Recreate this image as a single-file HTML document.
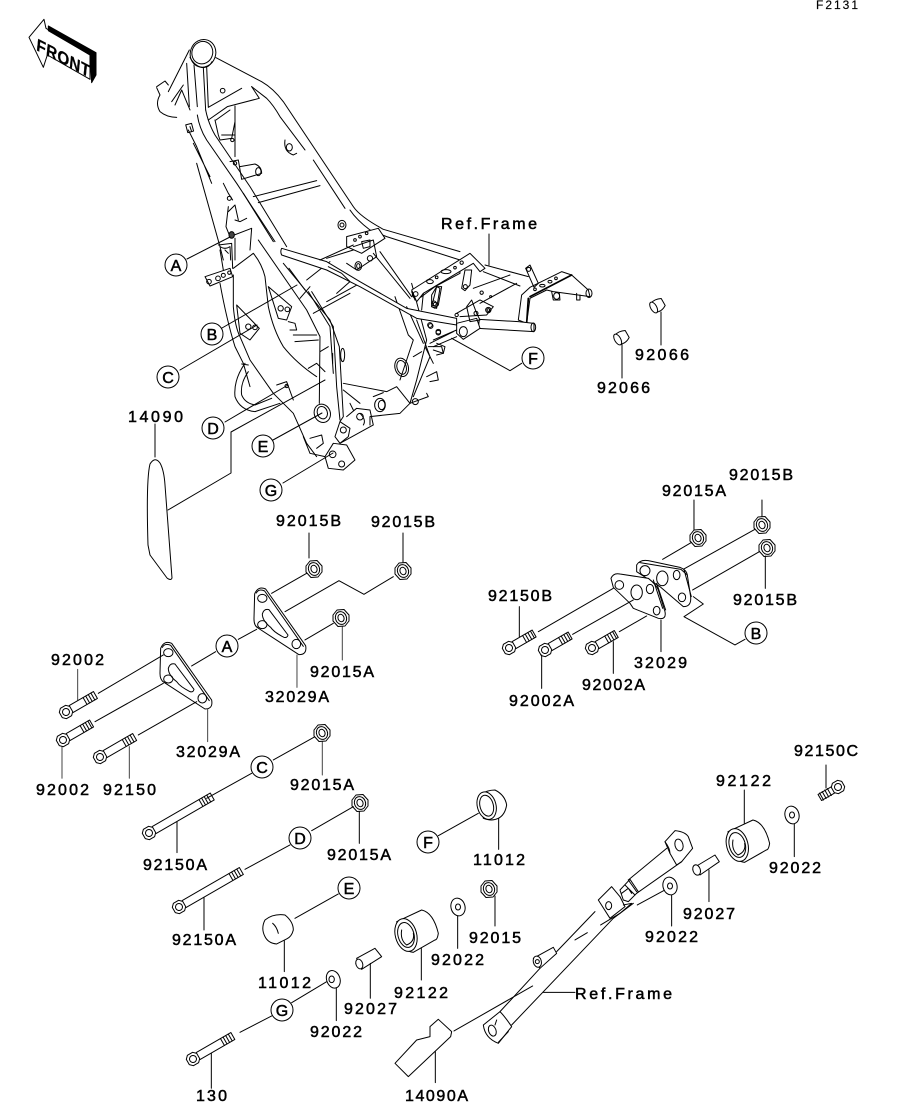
<!DOCTYPE html>
<html><head><meta charset="utf-8"><style>
html,body{margin:0;padding:0;background:#fff}
svg{display:block}
.l{fill:none;stroke:#000;stroke-width:1;stroke-linejoin:round;stroke-linecap:round}
.z{fill:none;stroke:#000;stroke-width:3;stroke-linejoin:round;stroke-linecap:round}
.z .w,.w{fill:#fff}
text{font-family:"Liberation Sans",sans-serif;font-size:16px;fill:#000;stroke:#000;stroke-width:.5}
.c{font-size:16px;text-anchor:middle}
circle.k{fill:#fff;stroke:#000;stroke-width:1}
</style></head><body>
<svg width="914" height="1103" viewBox="0 0 914 1103" xmlns="http://www.w3.org/2000/svg">
<defs>
<g id="nut" class="l"><polygon class="w" points="-8,-3 -4,-8 3,-8.5 8,-3 8,3 4,8 -3,8.5 -8,3"/><ellipse rx="5.5" ry="6.5" transform="rotate(-20)"/><ellipse rx="3" ry="3.8" transform="rotate(-20)"/></g>
<g id="bh" class="l"><polygon class="w" points="-6,-3 -3,-6 3,-6 6,-3 6,3 3,6 -3,6 -6,3"/><circle r="3.5"/></g>
<g id="th" class="l"><path d="M0-4V4M3-4V4M6-4V4M9-4V4"/></g>
<g id="p1" class="z">
<path class="w" d="M362 265Q372 240 395 250L515 420Q520 447 495 447L372 367Q360 360 360 340Z"/>
<path d="M367 262Q375 248 392 256L508 422"/>
<ellipse cx="385" cy="278" rx="14" ry="12"/><ellipse cx="385" cy="357" rx="14" ry="12"/><ellipse cx="487" cy="415" rx="13" ry="14"/>
<path d="M385 325Q390 308 405 312L462 388Q460 398 450 395Q420 380 410 365Q385 345 385 325Z"/>
</g>
<g id="wa" class="l"><ellipse class="w" rx="7" ry="9" transform="rotate(-15)"/><ellipse rx="2.5" ry="3"/></g>
</defs>
<rect width="914" height="1103" fill="#fff"/>

<!-- FRONT arrow -->
<g class="z" transform="translate(20,10) scale(.3333)">
<polygon class="w" points="27,82 72,28 78,55 210,135 210,208 82,135 70,172"/>
<polygon fill="#000" points="85,48 228,128 228,195 215,218 210,135 85,62"/>
</g>
<text transform="matrix(.89,.46,-.1,1,36,50)" x="0" y="0" textLength="60" style="font-size:17px;font-weight:bold;stroke-width:.2">FRONT</text>
<text x="816" y="9" textLength="42" style="font-size:12px;stroke-width:.15">F2131</text>

<!-- frame upper -->
<g class="z" transform="translate(140,20) scale(.3333)">
<ellipse cx="189" cy="100" rx="38" ry="42" transform="rotate(20 189 100)"/>
<ellipse cx="187" cy="98" rx="31" ry="34" transform="rotate(20 187 98)"/>
<path d="M150 112Q165 140 190 143Q208 142 216 125"/>
<path d="M148 90L85 215M50 200L75 183L85 195M50 203L60 225Q45 250 60 275Q80 292 110 292M95 245L130 195M105 255L125 210L150 270"/>
<path d="M140 130L148 260M162 135L172 260M190 143L197 270"/>
<path d="M172 285Q178 325 200 360L290 490L405 665M197 270Q205 310 225 345L330 500L440 680"/>
<path d="M310 520L400 665"/>
<path d="M205 262L305 205M200 140L205 262M205 300L262 260L358 235L335 200"/>
<circle cx="248" cy="212" r="7"/>
<path d="M285 258L285 410M225 300L235 345L240 360L275 355L285 305M245 345L285 345M228 300L270 270"/>
<circle cx="277" cy="360" r="5"/><circle cx="285" cy="430" r="5"/>
<path d="M270 425L295 420L305 478M300 440L345 432Q365 440 365 460L305 478"/><ellipse cx="355" cy="455" rx="8" ry="12"/>
<path d="M340 530L530 482M355 548L540 497"/>
<path d="M228 113L365 185Q400 205 430 245L640 560Q660 590 730 628L960 695"/>
<path d="M335 200L380 235Q400 255 420 290L495 390M520 420L615 565M630 570Q650 600 690 630L740 650L960 720"/>
<path d="M435 360Q430 395 460 405L470 400"/><ellipse cx="448" cy="382" rx="9" ry="11"/>
<ellipse cx="606" cy="615" rx="12" ry="14"/><circle cx="606" cy="615" r="6"/>
<path d="M145 330L170 380L215 490M160 370L210 470M170 430L240 680L250 720M150 320L155 335"/>
<rect x="140" y="312" width="18" height="24" transform="rotate(-15 149 324)"/>
<path d="M250 490L265 520L278 540M265 560L258 620L270 650L335 625L330 690M285 600L300 605L320 595M265 575L285 555L295 600"/>
<circle cx="268" cy="535" r="6"/>
<ellipse cx="275" cy="645" rx="8" ry="10" fill="#444"/>
<path d="M285 655L285 720M240 680Q255 690 270 680L272 720"/>
<path class="w" d="M620 650L715 625L735 655L665 700L620 680Z"/>
<circle cx="645" cy="660" r="4"/><circle cx="660" cy="650" r="4"/><circle cx="680" cy="640" r="4"/>
<path d="M665 665L690 660L690 680L670 685Z"/>
<path d="M560 715L640 690"/>
</g>

<!-- frame middle/lower -->
<g class="z" transform="translate(140,240) scale(.3333)">
<path class="w" d="M195 110L270 85L278 110L210 138Z"/>
<circle cx="207" cy="125" r="7"/><circle cx="234" cy="115" r="7"/><circle cx="250" cy="106" r="6"/><circle cx="268" cy="98" r="5"/>
<path d="M235 15L275 10L278 85M240 30L250 90M255 30L265 40"/>
<path d="M240 130Q260 240 285 320L310 370L330 440"/>
<path d="M280 105L280 200Q285 260 300 290L330 360L400 460L460 520L500 610L530 650"/>
<path d="M280 85L340 40Q365 70 375 110L385 200Q400 270 430 320Q470 370 530 410"/>
<path class="w" d="M385 140L455 200L440 240L415 235Z"/><circle cx="422" cy="205" r="8"/><circle cx="442" cy="208" r="7"/>
<path class="w" d="M290 195L358 265L330 300L300 280Z"/><circle cx="325" cy="260" r="8"/><circle cx="345" cy="262" r="7"/>
<path d="M445 245L465 250L470 270L450 270"/>
<path d="M355 0L500 210L540 290L538 490M430 70L570 240L598 320L610 530L600 545"/>
<path d="M505 155L570 260L580 400M515 155L580 260L590 440L600 540M447 85L495 150"/>
<path d="M460 285L530 285M465 305L535 300M500 120L570 65M480 175L510 140M520 220L630 160M560 185L660 130"/>
<path d="M540 335L565 320M578 340L578 370M505 385L530 370L555 395"/>
<ellipse cx="608" cy="345" rx="6" ry="20"/>
<ellipse class="w" cx="547" cy="520" rx="24" ry="28" transform="rotate(-20 547 520)"/>
<ellipse cx="547" cy="518" rx="15" ry="19" transform="rotate(-20 547 518)"/>
<path d="M315 370Q280 420 285 470Q300 510 345 515L420 490M325 395Q300 430 305 465Q315 490 345 495L395 475M305 372L325 375"/>
<path d="M410 435L440 425L460 480"/><circle cx="440" cy="438" r="5"/>
<path d="M490 590L510 640L555 650M510 595L545 585L550 610L530 625"/>
<path class="w" d="M555 650L580 610L620 615L645 660L610 690L565 685Z"/>
<circle cx="578" cy="643" r="10"/><circle cx="605" cy="672" r="9"/>
<path class="w" d="M585 590L600 545L630 565L625 590L600 610Z"/><circle cx="610" cy="570" r="9"/>
<path d="M600 610L700 555L690 510L650 505L620 530M660 520Q680 540 670 555"/>
<circle cx="660" cy="530" r="10"/>
<path d="M610 430L740 455L770 440L810 490L780 520L690 530L690 555M610 450L660 490M630 490L640 510"/>
<ellipse cx="720" cy="495" rx="16" ry="20"/><ellipse cx="725" cy="495" rx="10" ry="14"/><path d="M700 470L730 458"/>
<ellipse class="w" cx="785" cy="382" rx="20" ry="28" transform="rotate(-15 785 382)"/><ellipse cx="785" cy="382" rx="14" ry="21" transform="rotate(-15 785 382)"/>
<path d="M765 170L805 285L820 300L780 420M815 130L860 300L830 420L810 490M800 200L850 310M830 240L870 350L820 470M820 350L845 335"/>
<circle cx="826" cy="485" r="9"/><path d="M810 490L865 470L860 460"/>
<path d="M855 320L880 370M865 320L905 320L910 340L890 345M860 410L890 395L895 420L870 425"/>
<path class="w" d="M425 25L560 65L660 125L800 205L950 235L950 255L830 235L660 140L560 90L425 45Q420 35 425 25Z"/>
<path d="M640 20L700 0L710 50L650 90L620 70M540 60L640 15M565 80L605 100L630 125L590 160"/>
<ellipse cx="655" cy="78" rx="10" ry="13"/><ellipse cx="655" cy="78" rx="5" ry="7"/><circle cx="690" cy="55" r="8"/>
<path d="M700 40L810 175M720 35L815 170"/>
<path class="w" d="M815 155L960 70L960 100L885 140L845 170L825 180Z"/><circle cx="825" cy="165" r="8"/><ellipse cx="868" cy="123" rx="8" ry="4"/><circle cx="893" cy="110" r="4"/><path d="M900 105L940 85"/>
<path d="M875 165L890 140L900 145L890 205L875 200Z"/><circle cx="882" cy="190" r="7"/>
<circle cx="870" cy="255" r="7"/><circle cx="895" cy="278" r="7"/><path d="M880 300L950 270M880 320L950 290"/>
<circle cx="950" cy="225" r="5"/>
</g>

<!-- rear frame -->
<g class="z" transform="translate(380,200) scale(.3333)">
<path class="w" d="M95 270L270 160L315 205L300 215L280 190L130 280L110 305Z"/>
<ellipse cx="150" cy="245" rx="10" ry="6"/><circle cx="170" cy="232" r="4"/><ellipse cx="198" cy="215" rx="15" ry="6"/><circle cx="225" cy="203" r="4"/><circle cx="245" cy="188" r="5"/><circle cx="107" cy="282" r="7"/>
<path d="M130 280L125 330M245 265L255 210L275 210L270 255L255 272Z M155 320L170 260L185 260L175 315L165 325Z"/><circle cx="256" cy="260" r="6"/><circle cx="166" cy="313" r="6"/>
<path d="M315 195L445 230M310 215L420 258M280 265L390 225M300 310L410 250"/>
<path d="M230 340L300 300L340 320L320 345L240 350"/><circle cx="325" cy="330" r="8"/><circle cx="325" cy="330" r="4"/><circle cx="305" cy="278" r="5"/><circle cx="332" cy="290" r="3"/>
<path class="w" d="M415 360L425 285L450 262L545 215L575 225L625 270L630 290L520 275L500 270L450 295L440 370Z"/>
<path d="M450 290L575 225M445 295L440 370" stroke-width="5"/>
<circle cx="465" cy="268" r="4"/><ellipse cx="487" cy="257" rx="8" ry="4"/><ellipse cx="510" cy="245" rx="6" ry="4"/><circle cx="528" cy="235" r="4"/>
<path d="M437 205L450 195L475 250L462 262Z"/><circle cx="446" cy="208" r="6"/>
<ellipse cx="627" cy="280" rx="9" ry="13"/>
<path d="M515 275L520 300L540 300L538 280"/><ellipse cx="530" cy="288" rx="9" ry="10"/><path d="M590 280L590 300L600 300L600 285"/>
<path class="w" d="M298 358L415 365L462 370L462 395L295 385Z"/><ellipse cx="460" cy="382" rx="7" ry="13"/>
<path class="w" d="M230 370L290 355L300 385L250 418L230 400Z"/><ellipse cx="250" cy="395" rx="12" ry="15"/>
<path d="M260 320L275 300L290 340L300 360L270 365Z"/><circle cx="288" cy="340" r="6"/>
<path d="M215 415L390 512L425 490"/>
<circle cx="152" cy="378" r="7"/><circle cx="175" cy="395" r="7"/><path d="M150 430L220 395M170 430L195 440L190 460L160 450"/>
</g>

<!-- 14090 guard -->
<path class="l" d="M148 545Q146 480 150 464Q155 456 160 463Q164 470 165 485L172 578Q171 581 167 578L150 555Z"/>
<!-- connectors -->
<g class="l">
<path d="M489 234V265"/>
<path d="M187 259L230 237M222 328L297 285M180 370L257 325M225 422L288 385M273 440L322 413M283 483L333 453"/>
<path d="M168 510L231 473V432L325 380"/>
<path d="M155 424V457"/>
<path d="M661 312V345M622 343V378"/>
<path d="M309 533V558M403 533V562"/>
</g>
<!-- caps 92066 -->
<g class="l">
<g transform="translate(658,305) rotate(-30)"><path class="w" d="M-6 -5Q0 -7 6 -4L6 4Q0 8 -6 5Z"/><ellipse cx="-5" cy="0" rx="3" ry="6" class="w"/></g>
<g transform="translate(622,337) rotate(-30)"><path class="w" d="M-6 -5Q0 -7 6 -4L6 4Q0 8 -6 5Z"/><ellipse cx="-5" cy="0" rx="3" ry="6" class="w"/></g>
</g>

<!-- plates left -->
<g transform="translate(40,560) scale(.3333)">
<use href="#p1"/><use href="#p1" x="282" y="-163"/>
<g class="z">
<path d="M175 400L370 285M165 485L370 370M295 525L470 425M455 318L527 275M595 238L650 208M695 100L800 40M735 155L897 62L972 103L1060 50M795 240L880 190M700 600L825 530M500 715L635 640"/>
<path stroke="#444" d="M907 200V300M771 285V382M503 447V545M113 328V420M66 558V655M268 560V655M847 545V645"/>
</g>
</g>
<!-- bolts -->
<g class="l">
<g transform="translate(66,712) rotate(-30)"><path d="M6-4H34V4H6"/><use href="#th" x="22"/><use href="#bh"/></g>
<g transform="translate(63,740) rotate(-30)"><path d="M6-4H33V4H6"/><use href="#th" x="22"/><use href="#bh"/></g>
<g transform="translate(100,757) rotate(-30)"><path d="M6-4H40V4H6"/><use href="#th" x="28"/><use href="#bh"/></g>
<g transform="translate(149,833) rotate(-30)"><path d="M6-4H73V4H6"/><use href="#th" x="60"/><use href="#bh"/></g>
<g transform="translate(179,907) rotate(-30)"><path d="M6-4H72V4H6"/><use href="#th" x="60"/><use href="#bh"/></g>
<g transform="translate(193,1059) rotate(-30)"><path d="M6-4H46V4H6"/><use href="#th" x="34"/><use href="#bh"/></g>
<g transform="translate(509,648) rotate(-30)"><path d="M6-4H29V4H6"/><use href="#th" x="18"/><use href="#bh"/></g>
<g transform="translate(545,650) rotate(-30)"><path d="M6-4H29V4H6"/><use href="#th" x="18"/><use href="#bh"/></g>
<g transform="translate(592,648) rotate(-30)"><path d="M6-4H28V4H6"/><use href="#th" x="17"/><use href="#bh"/></g>
<g transform="translate(838,787) rotate(150)"><path d="M6-3.5H21V3.5H6"/><use href="#th" x="10"/><use href="#bh"/></g>
<path d="M826 765V788"/>
</g>
<!-- nuts -->
<use href="#nut" x="314" y="569"/><use href="#nut" x="341" y="618"/><use href="#nut" x="403" y="571"/><use href="#nut" x="322" y="733"/><use href="#nut" x="360" y="803"/><use href="#nut" x="489" y="889"/><use href="#nut" x="698" y="538"/><use href="#nut" x="762" y="525"/><use href="#nut" x="767" y="548"/>

<!-- right plates -->
<g class="z" transform="translate(480,500) scale(.3333)">
<path class="w" d="M470 195Q480 178 505 182L600 202Q620 210 622 225L632 290Q635 320 610 320L540 260L470 215Z"/>
<path d="M480 188L603 208L622 225M612 208L634 290"/>
<circle cx="495" cy="212" r="15"/><ellipse cx="547" cy="235" rx="17" ry="22"/><ellipse cx="590" cy="225" rx="10" ry="14"/><ellipse cx="606" cy="292" rx="11" ry="13"/>
<path class="w" d="M393 235Q400 218 420 222L505 235Q530 255 535 270L555 335Q560 360 535 355L460 325L450 310L400 262Z"/>
<path d="M530 250L557 330M520 240L548 325"/>
<circle cx="418" cy="255" r="13"/><ellipse cx="470" cy="277" rx="17" ry="22"/><ellipse cx="510" cy="267" rx="11" ry="14"/><ellipse cx="530" cy="332" rx="10" ry="13"/>
<path d="M175 395L400 265M278 403L460 300M418 395L500 348M548 178L635 127M612 207L825 88M638 270L838 155M640 290L670 312L612 350L765 435L795 418M642 0V90M846 0V50M856 168V265M118 320V410M400 425V520M543 360V455M185 465V565"/>
</g>

<!-- lower right -->
<g class="z" transform="translate(380,790) scale(.3333)">
<path class="w" d="M300 15Q320 0 345 0Q375 15 380 45Q375 75 355 85Q335 95 310 85Z"/>
<ellipse class="w" cx="320" cy="47" rx="28" ry="42" transform="rotate(-15 320 47)"/><ellipse cx="320" cy="47" rx="20" ry="32" transform="rotate(-15 320 47)"/>
<path d="M175 137L295 70M356 85V178"/>
<g id="sp">
<path class="w" d="M50 395L125 360Q160 368 175 430Q172 450 165 450L100 487Q85 485 70 475Z"/>
<ellipse class="w" cx="78" cy="435" rx="32" ry="50" transform="rotate(-15 78 435)"/><ellipse cx="78" cy="435" rx="24" ry="38" transform="rotate(-15 78 435)"/>
<path d="M65 420Q60 450 80 465Q105 455 100 430"/>
</g>
<use href="#sp" x="994" y="-270"/>
<path d="M124 475V570M1093 0V100M233 378V475M345 318V408M1243 100V200M987 240V335M875 312V408"/>
<path class="w" d="M950 228L1005 195L1018 215L960 255Z"/><ellipse class="w" cx="950" cy="240" rx="11" ry="16" transform="rotate(-20 950 240)"/>
<path class="w" d="M855 155L885 122Q915 125 925 140L938 175L905 215L890 225L870 190Z"/>
<ellipse cx="897" cy="165" rx="12" ry="18" transform="rotate(-15 897 165)"/>
<path d="M855 155Q870 175 870 190"/>
<path d="M860 175L745 270M905 215L770 310"/>
<path class="w" d="M720 300L750 268L775 305L745 335L730 330Z"/><path d="M735 285L765 315M745 270L770 305M725 310L745 295L755 310"/>
<path class="w" d="M655 330L695 290L720 320L735 350L690 385Z"/><ellipse cx="686" cy="347" rx="9" ry="12"/>
<path d="M645 365L530 485M480 535L360 665M760 340L700 385L395 705"/>
<path d="M662 405L720 370L755 340L730 345M585 450L622 428"/>
<path class="w" d="M360 665L310 705Q315 745 355 760L395 710Q375 680 360 665Z"/>
<ellipse cx="337" cy="722" rx="11" ry="17" transform="rotate(-20 337 722)"/><path d="M350 690L345 705M355 757L385 725"/>
<path class="w" d="M460 505L520 472L530 490L480 535Z"/><ellipse class="w" cx="472" cy="515" rx="12" ry="17" transform="rotate(-15 472 515)"/><circle cx="472" cy="515" r="6"/>
<path class="w" d="M45 820L110 750L150 740L150 710L175 688L215 725L212 740L85 860Z"/>
<path d="M222 723L458 588M166 785V878M490 607H585M772 345L855 300"/>
</g>
<use href="#wa" x="458" y="907"/>
<use href="#wa" x="792" y="815"/>
<use href="#wa" x="670" y="886"/>

<!-- lower left: cap, pin, washer -->
<g class="z" transform="translate(130,780) scale(.3333)">
<path class="w" d="M405 420Q430 400 465 405Q490 425 490 450Q485 470 470 477L440 492Q415 490 405 470Q392 445 405 420Z"/>
<path d="M428 430Q440 440 445 460"/>
<path d="M495 415L625 342M463 482V575"/>
<path class="w" d="M680 535L735 505L755 530L695 568Z"/><ellipse class="w" cx="688" cy="552" rx="10" ry="15" transform="rotate(-20 688 552)"/>
<path d="M721 550V655"/>
<ellipse class="w" cx="610" cy="598" rx="20" ry="27" transform="rotate(-20 610 598)"/><ellipse cx="605" cy="598" rx="8" ry="10"/>
<path d="M485 668L590 605M425 708L330 757M619 625V722M244 820V925M141 125V218M222 352V450M688 95V190M545 152L670 80M345 268L480 195"/>
</g>

<!-- callouts -->
<g>
<circle class="k" cx="176" cy="265" r="11"/><circle class="k" cx="212" cy="334" r="11"/><circle class="k" cx="168" cy="377" r="11"/><circle class="k" cx="213" cy="428" r="11"/><circle class="k" cx="263" cy="446" r="11"/><circle class="k" cx="271" cy="490" r="11"/><circle class="k" cx="533" cy="358" r="11"/>
<circle class="k" cx="227" cy="646" r="11"/><circle class="k" cx="262" cy="767" r="11"/><circle class="k" cx="300" cy="838" r="11"/><circle class="k" cx="349" cy="888" r="11"/><circle class="k" cx="428" cy="842" r="11"/><circle class="k" cx="282" cy="1010" r="11"/><circle class="k" cx="756" cy="633" r="11"/>
</g>
<g>
<text class="c" x="176" y="271">A</text><text class="c" x="212" y="340">B</text><text class="c" x="168" y="383">C</text><text class="c" x="213" y="434">D</text><text class="c" x="263" y="452">E</text><text class="c" x="271" y="496">G</text><text class="c" x="533" y="364">F</text>
<text class="c" x="227" y="652">A</text><text class="c" x="262" y="773">C</text><text class="c" x="300" y="844">D</text><text class="c" x="349" y="894">E</text><text class="c" x="428" y="848">F</text><text class="c" x="282" y="1016">G</text><text class="c" x="756" y="639">B</text>
</g>

<!-- labels -->
<g>
<text x="441" y="229" textLength="96">Ref.Frame</text>
<text x="635" y="360" textLength="54">92066</text>
<text x="597" y="393" textLength="53">92066</text>
<text x="128" y="422" textLength="55">14090</text>
<text x="276" y="526" textLength="65">92015B</text>
<text x="371" y="527" textLength="64">92015B</text>
<text x="662" y="496" textLength="64">92015A</text>
<text x="729" y="480" textLength="64">92015B</text>
<text x="488" y="601" textLength="64">92150B</text>
<text x="733" y="605" textLength="64">92015B</text>
<text x="634" y="668" textLength="53">32029</text>
<text x="509" y="706" textLength="65">92002A</text>
<text x="582" y="690" textLength="63">92002A</text>
<text x="265" y="702" textLength="64">32029A</text>
<text x="310" y="677" textLength="64">92015A</text>
<text x="51" y="665" textLength="53">92002</text>
<text x="176" y="757" textLength="64">32029A</text>
<text x="36" y="795" textLength="53">92002</text>
<text x="103" y="795" textLength="53">92150</text>
<text x="290" y="790" textLength="64">92015A</text>
<text x="794" y="756" textLength="64">92150C</text>
<text x="716" y="786" textLength="55">92122</text>
<text x="769" y="873" textLength="52">92022</text>
<text x="683" y="919" textLength="52">92027</text>
<text x="645" y="942" textLength="53">92022</text>
<text x="473" y="865" textLength="52">11012</text>
<text x="469" y="943" textLength="52">92015</text>
<text x="431" y="965" textLength="53">92022</text>
<text x="394" y="998" textLength="54">92122</text>
<text x="143" y="870" textLength="64">92150A</text>
<text x="327" y="860" textLength="64">92015A</text>
<text x="172" y="945" textLength="64">92150A</text>
<text x="258" y="988" textLength="53">11012</text>
<text x="344" y="1014" textLength="53">92027</text>
<text x="310" y="1037" textLength="52">92022</text>
<text x="196" y="1101" textLength="31">130</text>
<text x="405" y="1101" textLength="63">14090A</text>
<text x="575" y="999" textLength="97">Ref.Frame</text>
</g>
</svg>
</body></html>
